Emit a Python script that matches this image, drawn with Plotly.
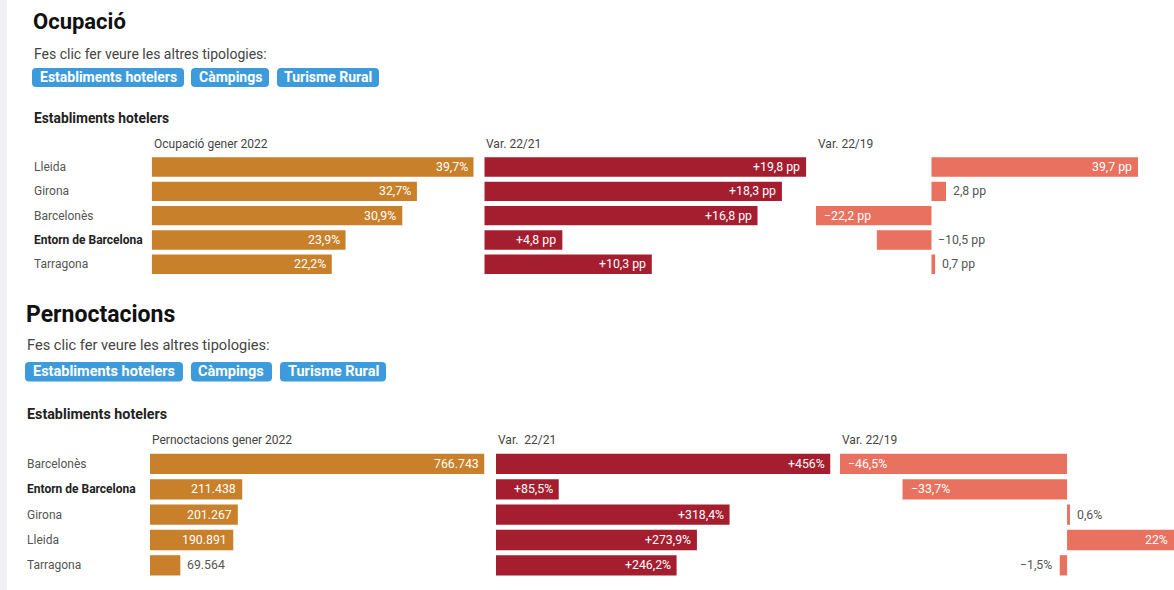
import plotly.graph_objects as go

# ---------------- data ----------------
regions_ocup = ["Lleida", "Girona", "Barcelonès", "Entorn de Barcelona", "Tarragona"]
ocup_gener_2022 = [39.7, 32.7, 30.9, 23.9, 22.2]
ocup_var_22_21 = [19.8, 18.3, 16.8, 4.8, 10.3]
ocup_var_22_19 = [39.7, 2.8, -22.2, -10.5, 0.7]

regions_pern = ["Barcelonès", "Entorn de Barcelona", "Girona", "Lleida", "Tarragona"]
pern_gener_2022 = [766743, 211438, 201267, 190891, 69564]
pern_var_22_21 = [456, 85.5, 318.4, 273.9, 246.2]
pern_var_22_19 = [-46.5, -33.7, 0.6, 22, -1.5]

bold_region = "Entorn de Barcelona"
buttons = ["Establiments hotelers", "Càmpings", "Turisme Rural"]

# ---------------- layout helpers ----------------
W, H = 1174, 590
FONT = "Roboto"
C_ORANGE = "#c8802a"
C_RED = "#a41e2f"
C_SALMON = "#e8715f"


def X(px):
    return px / W


def Y(py):
    return 1 - py / H


def dec(v, nd=1):
    s = f"{abs(v):.{nd}f}"
    if s.endswith(".0"):
        s = s[:-2]
    return s.replace(".", ",")


def fmt_pct(v):
    return ("\u2212" if v < 0 else "") + dec(v) + "%"


def fmt_pct_plus(v):
    return ("+" if v > 0 else "\u2212" if v < 0 else "") + dec(v) + "%"


def fmt_pp_plus(v):
    return ("+" if v > 0 else "\u2212" if v < 0 else "") + dec(v) + " pp"


def fmt_pp(v):
    return ("\u2212" if v < 0 else "") + dec(v) + " pp"


def fmt_thousands(v):
    return f"{int(v):,}".replace(",", ".")


fig = go.Figure()
annotations = []
shapes = []

# left grey strip
shapes.append(dict(type="rect", xref="paper", yref="paper", x0=0, x1=X(7), y0=0, y1=1,
                   fillcolor="#f1f1f3", line=dict(width=0), layer="below"))


def rounded_rect(x0, x1, y0, y1, r=4):
    rx, ry = r / W, r / H
    a0, a1 = X(x0), X(x1)
    b0, b1 = Y(y1), Y(y0)  # bottom, top in paper
    return (f"M {a0 + rx},{b0} L {a1 - rx},{b0} Q {a1},{b0} {a1},{b0 + ry} "
            f"L {a1},{b1 - ry} Q {a1},{b1} {a1 - rx},{b1} L {a0 + rx},{b1} "
            f"Q {a0},{b1} {a0},{b1 - ry} L {a0},{b0 + ry} Q {a0},{b0} {a0 + rx},{b0} Z")


axis_idx = [0]


def add_section(cfg):
    left = cfg["left"]
    annotations.append(dict(text=f"<b>{cfg['title']}</b>", x=X(left - 1), y=Y(cfg["title_y"]),
                            xref="paper", yref="paper", xanchor="left", yanchor="middle",
                            showarrow=False, font=dict(family=FONT, size=cfg["title_size"], color="#111")))
    annotations.append(dict(text="Fes clic fer veure les altres tipologies:", x=X(left), y=Y(cfg["sub_y"]),
                            xref="paper", yref="paper", xanchor="left", yanchor="middle",
                            showarrow=False, font=dict(family=FONT, size=cfg["sub_size"], color="#444")))
    by0, by1 = cfg["btn_y"]
    for name, (bx0, bx1) in zip(buttons, cfg["btn_x"]):
        shapes.append(dict(type="path", xref="paper", yref="paper", path=rounded_rect(bx0, bx1, by0, by1),
                           fillcolor="#3d9bdb", line=dict(width=0)))
        annotations.append(dict(text=f"<b>{name}</b>", x=X((bx0 + bx1) / 2), y=Y((by0 + by1) / 2),
                                xref="paper", yref="paper", xanchor="center", yanchor="middle",
                                showarrow=False, font=dict(family=FONT, size=cfg["btn_size"], color="white")))
    annotations.append(dict(text="<b>Establiments hotelers</b>", x=X(left), y=Y(cfg["label_y"]),
                            xref="paper", yref="paper", xanchor="left", yanchor="middle",
                            showarrow=False, font=dict(family=FONT, size=cfg["label_size"], color="#222")))

    regions = cfg["regions"]
    row_top, row_bot = cfg["rows"]
    first_y = None
    for ci, (header, values, color, fmt) in enumerate(cfg["cols"]):
        axis_idx[0] += 1
        k = axis_idx[0]
        xa = "x" if k == 1 else f"x{k}"
        ya = "y" if k == 1 else f"y{k}"
        xname = "xaxis" if k == 1 else f"xaxis{k}"
        yname = "yaxis" if k == 1 else f"yaxis{k}"
        if first_y is None:
            first_y = ya
        start = cfg["col_x"][ci]
        width = cfg["col_w"]
        lo = min(0, min(values))
        hi = max(0, max(values))
        scale = width / (hi - lo)
        end = min(start + width, W)
        hi_vis = lo + (end - start) / scale

        def to_px(val):
            return start + (val - lo) * scale

        fig.add_trace(go.Bar(x=values, y=regions, orientation="h", marker=dict(color=color, line=dict(width=0)),
                             xaxis=xa, yaxis=ya, hoverinfo="skip", showlegend=False))
        fig.layout[xname] = dict(domain=[X(start), X(end)], range=[lo, hi_vis], visible=False,
                                 anchor=ya, fixedrange=True)
        fig.layout[yname] = dict(domain=[Y(row_bot), Y(row_top)], type="category",
                                 categoryarray=regions, categoryorder="array",
                                 range=[len(regions) - 0.5, -0.5], visible=False, anchor=xa, fixedrange=True)
        annotations.append(dict(text=header, x=X(start), y=Y(cfg["header_y"]), xref="paper", yref="paper",
                                xanchor="left", yanchor="middle", showarrow=False,
                                font=dict(family=FONT, size=12, color="#444")))
        # value labels
        for reg, v in zip(regions, values):
            txt = fmt(v)
            tw = len(txt) * 6.2
            barpx = abs(v) * scale
            vpx = min(to_px(v), W)
            zpx = to_px(0)
            base = dict(text=txt, y=reg, xref="paper", yref=ya, yanchor="middle", showarrow=False,
                        font=dict(family=FONT, size=12.3, color="white"))
            if barpx >= tw + 10:
                if v >= 0:
                    base.update(x=X(vpx - 4), xanchor="right")
                else:
                    base.update(x=X(vpx + 6), xanchor="left")
            else:
                base["font"] = dict(family=FONT, size=12.3, color="#555")
                if v >= 0:
                    base.update(x=X(vpx + 5), xanchor="left")
                else:
                    room = (v - lo) * scale
                    if room >= tw + 12:
                        base.update(x=X(vpx - 6), xanchor="right")
                    else:
                        base.update(x=X(zpx + 5), xanchor="left")
            annotations.append(base)

    for reg in regions:
        t = f"<b>{reg}</b>" if reg == bold_region else reg
        annotations.append(dict(text=t, x=X(left), y=reg, xref="paper", yref=first_y,
                                xanchor="left", yanchor="middle", showarrow=False,
                                font=dict(family=FONT, size=12, color="#222" if reg == bold_region else "#555")))


add_section(dict(
    title="Ocupació", title_y=22, title_size=22, left=32,
    sub_y=54, sub_size=14,
    btn_x=[(32, 184), (191, 269), (277, 379)], btn_y=(68, 87), btn_size=14,
    label_y=118, label_size=13.8, header_y=144,
    regions=regions_ocup, rows=(154.9, 276.4),
    col_x=[151.7, 484.3, 816], col_w=322,
    cols=[("Ocupació gener 2022", ocup_gener_2022, C_ORANGE, fmt_pct),
          ("Var. 22/21", ocup_var_22_21, C_RED, fmt_pp_plus),
          ("Var. 22/19", ocup_var_22_19, C_SALMON, fmt_pp)],
))

add_section(dict(
    title="Pernoctacions", title_y=314, title_size=23, left=25,
    sub_y=345, sub_size=14.6,
    btn_x=[(25, 183), (191, 272), (280, 386)], btn_y=(362, 381.5), btn_size=14.5,
    label_y=414, label_size=14.3, header_y=440,
    regions=regions_pern, rows=(451.3, 578),
    col_x=[150, 496, 840], col_w=334.5,
    cols=[("Pernoctacions gener 2022", pern_gener_2022, C_ORANGE, fmt_thousands),
          ("Var.\u00a0 22/21", pern_var_22_21, C_RED, fmt_pct_plus),
          ("Var. 22/19", pern_var_22_19, C_SALMON, fmt_pct)],
))

fig.update_layout(
    width=W, height=H, margin=dict(l=0, r=0, t=0, b=0),
    paper_bgcolor="white", plot_bgcolor="white",
    bargap=0.2, showlegend=False,
    annotations=annotations, shapes=shapes,
    font=dict(family=FONT),
)

fig.write_html("out.html", config={"displayModeBar": False},
               post_script="document.body.style.margin='0';document.body.style.overflow='hidden';")
